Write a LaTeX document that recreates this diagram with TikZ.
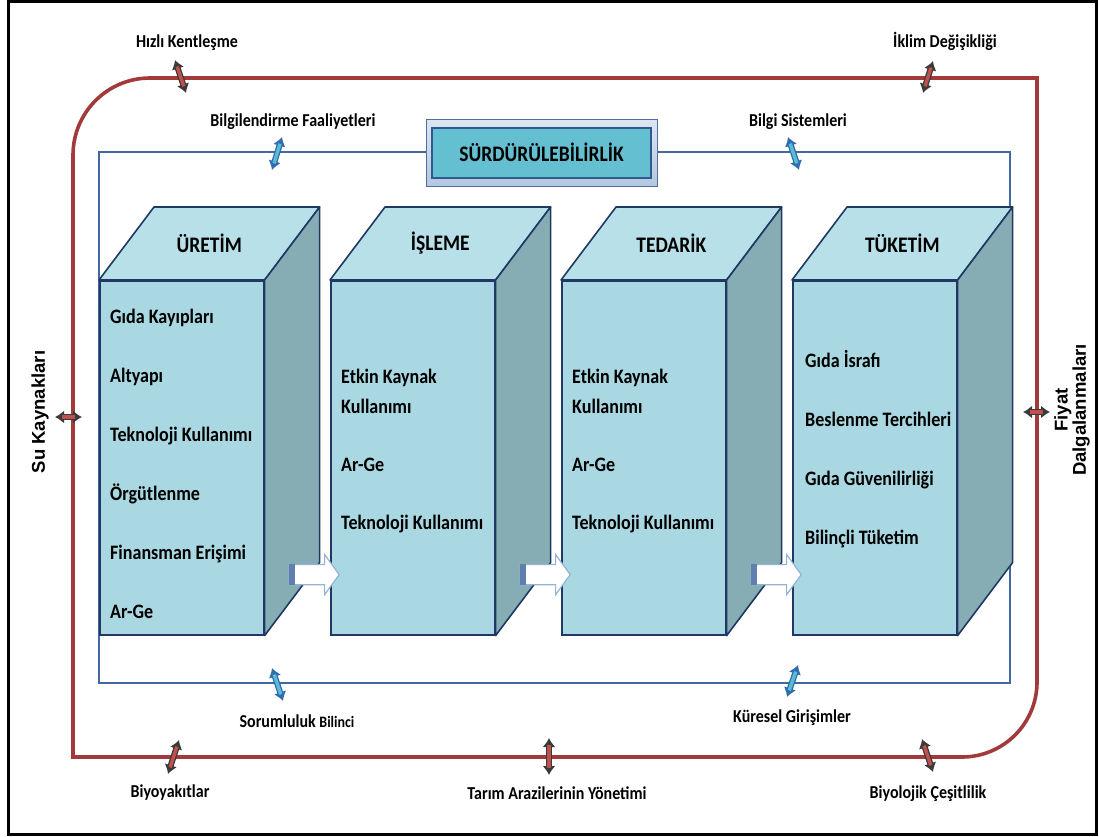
\documentclass[tikz,border=0pt]{standalone}
\usepackage{fontspec}
\setmainfont{Carlito}[FakeStretch=0.88]
\newfontfamily\sidefont{Liberation Sans}
\usepackage{tikz}
\usetikzlibrary{calc}
\usetikzlibrary{arrows.meta}
\usetikzlibrary{shapes.arrows}

\definecolor{loopred}{HTML}{A23A3B}
\definecolor{linkred}{HTML}{C0504D}
\definecolor{linkedge}{HTML}{3A3A3A}
\definecolor{frameblue}{HTML}{41689F}
\definecolor{cubeedge}{HTML}{1F3864}
\definecolor{cubefrontfill}{HTML}{A9D8E2}
\definecolor{cubetopfill}{HTML}{B8E0E8}
\definecolor{cubesidefill}{HTML}{87ADB4}
\definecolor{flowedge}{HTML}{95B3D7}
\definecolor{flowtailfill}{HTML}{5F7FAF}
\definecolor{sustfill}{HTML}{64BFD1}
\definecolor{sustedge}{HTML}{2E5A8E}
\definecolor{rimtop}{HTML}{DDE6F1}
\definecolor{rimbottom}{HTML}{B3C6E1}
\definecolor{rimedge}{HTML}{52709E}
\definecolor{bluelinkfill}{HTML}{5BBAD5}
\definecolor{bluelinkedge}{HTML}{2E6DAE}

\tikzset{
  every node/.style={
    inner sep=0pt,
  },
  pageframe/.style={
    draw=black,
    line width=3pt,
  },
  outerloop/.style={
    draw=loopred,
    line width=3.6pt,
  },
  innerframe/.style={
    draw=frameblue,
    line width=2pt,
  },
  cubefront/.style={
    draw=cubeedge,
    fill=cubefrontfill,
    line width=1.6pt,
    minimum width=164pt,
    minimum height=354pt,
    anchor=north west,
  },
  cubetop/.style={
    draw=cubeedge,
    fill=cubetopfill,
    line width=1.6pt,
    line join=round,
  },
  cubeside/.style={
    draw=cubeedge,
    fill=cubesidefill,
    line width=1.6pt,
    line join=round,
  },
  cubetitle/.style={
    font=\fontsize{22.2}{24}\selectfont\bfseries,
  },
  item/.style={
    anchor=west,
    text height=13.5pt,
    text depth=3.5pt,
    font=\fontsize{20.5}{23}\selectfont\bfseries,
  },
  outlabel/.style={
    font=\fontsize{18.2}{20}\selectfont\bfseries,
  },
  sidelabel/.style={
    rotate=90,
    align=center,
    font=\sidefont\fontsize{18.5}{17}\selectfont\bfseries,
  },
  flowarrow/.style={
    shape=single arrow,
    draw=flowedge,
    fill=white,
    line width=1.2pt,
    inner xsep=0pt,
    inner ysep=9.5pt,
    minimum height=50pt,
    single arrow head extend=10pt,
    single arrow tip angle=108,
    anchor=tail,
  },
  flowtail/.style={
    fill=flowtailfill,
  },
  sustouter/.style={
    draw=rimedge,
    line width=1pt,
    top color=rimtop,
    bottom color=rimbottom,
    minimum width=231pt,
    minimum height=67pt,
  },
  sustinner/.style={
    draw=sustedge,
    fill=sustfill,
    line width=2pt,
    minimum width=219pt,
    minimum height=50pt,
    font=\fontsize{22.2}{24}\selectfont\bfseries,
  },
  redlink/.style={
    draw=linkedge,
    line width=6pt,
    {Latex[length=9pt,width=13pt]}-{Latex[length=9pt,width=13pt]},
    postaction={draw=linkred, line width=3.4pt, -, shorten >=7pt, shorten <=7pt},
  },
  bluelink/.style={
    draw=bluelinkedge,
    line width=6pt,
    {Latex[length=9pt,width=13pt]}-{Latex[length=9pt,width=13pt]},
    postaction={draw=bluelinkfill, line width=3.4pt, -, shorten >=7pt, shorten <=7pt},
  },
}

\begin{document}
\begin{tikzpicture}[x=1pt,y=-1pt]
  \useasboundingbox (0,0) rectangle (1099,836);
  \draw[pageframe] (8.5,1.5) rectangle (1096.5,834.5);

  % outer loop
  \draw[outerloop] (73,757) -- (73,155)
    arc[start angle=180,end angle=270,radius=77]
    -- (1037,78) -- (1037,682)
    arc[start angle=0,end angle=90,radius=75]
    -- cycle;
  % inner frame
  \draw[innerframe] (99,152) rectangle (1010,683);

  % cubes
  \node[cubefront] (uretim) at (99,280) {};
  \node[cubefront] (isleme) at (330,280) {};
  \node[cubefront] (tedarik) at (561,280) {};
  \node[cubefront] (tuketim) at (792,280) {};
  \foreach \c/\t in {uretim/ÜRETİM,isleme/İŞLEME,tedarik/TEDARİK,tuketim/TÜKETİM}{
    \draw[cubetop] (\c.north west) -- ++(55,-73)
      -- ($(\c.north east)+(55,-73)$) -- (\c.north east) -- cycle;
    \draw[cubeside] (\c.north east) -- ++(55,-73)
      -- ($(\c.south east)+(55,-73)$) -- (\c.south east) -- cycle;
    \node[cubetitle] (\c-title) at ($(\c.north)+(27.5,-36.5)$) {\t};
  }

  % cube texts
  \foreach \txt [count=\i] in {Gıda Kayıpları,Altyapı,Teknoloji Kullanımı,Örgütlenme,Finansman Erişimi,Ar-Ge}
    \node[item] (uretim-\i) at ($(uretim.north west)+(11,38+59*\i-59)$) {\txt};
  \node[item] (isleme-1) at ($(isleme.north west)+(11,98)$) {Etkin Kaynak};
  \node[item] (isleme-2) at ($(isleme.north west)+(11,128)$) {Kullanımı};
  \node[item] (isleme-3) at ($(isleme.north west)+(11,186)$) {Ar-Ge};
  \node[item] (isleme-4) at ($(isleme.north west)+(11,244)$) {Teknoloji Kullanımı};
  \node[item] (tedarik-1) at ($(tedarik.north west)+(11,98)$) {Etkin Kaynak};
  \node[item] (tedarik-2) at ($(tedarik.north west)+(11,128)$) {Kullanımı};
  \node[item] (tedarik-3) at ($(tedarik.north west)+(11,186)$) {Ar-Ge};
  \node[item] (tedarik-4) at ($(tedarik.north west)+(11,244)$) {Teknoloji Kullanımı};
  \foreach \txt [count=\i] in {Gıda İsrafı,Beslenme Tercihleri,Gıda Güvenilirliği,Bilinçli Tüketim}
    \node[item] (tuketim-\i) at ($(tuketim.north west)+(13,82+59.3*\i-59.3)$) {\txt};

  % flow arrows
  \node[flowarrow] (flow1) at ($(uretim.south east)+(24,-61)$) {};
  \node[flowarrow] (flow2) at ($(isleme.south east)+(24,-61)$) {};
  \node[flowarrow] (flow3) at ($(tedarik.south east)+(24,-61)$) {};
  \foreach \f in {flow1,flow2,flow3}
    \fill[flowtail] (\f.before tail) rectangle ($(\f.after tail)+(6,0)$);

  % title box
  \node[sustouter] (sustbox) at (541.5,152.5) {};
  \node[sustinner] (sust) at (sustbox.center) {SÜRDÜRÜLEBİLİRLİK};

  % outer factors
  \coordinate (hk-a) at (175,60);   \coordinate (hk-b) at (186,93);
  \coordinate (id-a) at (933,61);   \coordinate (id-b) at (923,93);
  \coordinate (su-a) at (55,417);   \coordinate (su-b) at (82,417);
  \coordinate (fd-a) at (1023,412); \coordinate (fd-b) at (1050,412);
  \coordinate (by-a) at (179,740);  \coordinate (by-b) at (168,774);
  \coordinate (ta-a) at (549,738);  \coordinate (ta-b) at (549,775);
  \coordinate (bc-a) at (922,739);  \coordinate (bc-b) at (933,772);
  \foreach \l in {hk,id,su,fd,by,ta,bc}
    \draw[redlink] (\l-a) -- (\l-b);
  \node[outlabel] (hk) at (187,43) {Hızlı Kentleşme};
  \node[outlabel] (id) at (945,41) {İklim Değişikliği};
  \node[sidelabel] (su) at (40,412) {Su Kaynakları};
  \node[sidelabel] (fd) at (1072,410) {Fiyat\\Dalgalanmaları};
  \node[outlabel] (by) at (170,793) {Biyoyakıtlar};
  \node[outlabel] (ta) at (557,793) {Tarım Arazilerinin Yönetimi};
  \node[outlabel] (bc) at (928,794) {Biyolojik Çeşitlilik};

  % inner factors
  \coordinate (bf-a) at (282,137);  \coordinate (bf-b) at (272,170);
  \coordinate (bs-a) at (788,137);  \coordinate (bs-b) at (799,170);
  \coordinate (sb-a) at (272,668);  \coordinate (sb-b) at (283,701);
  \coordinate (kg-a) at (798,665);  \coordinate (kg-b) at (787,697);
  \foreach \l in {bf,bs,sb,kg}
    \draw[bluelink] (\l-a) -- (\l-b);
  \node[outlabel] (bf) at (293,122) {Bilgilendirme Faaliyetleri};
  \node[outlabel] (bs) at (798,122) {Bilgi Sistemleri};
  \node[outlabel] (sb) at (297,721) {Sorumluluk {\fontsize{15.9}{18}\selectfont Bilinci}};
  \node[outlabel] (kg) at (792,718) {Küresel Girişimler};
\end{tikzpicture}
\end{document}
